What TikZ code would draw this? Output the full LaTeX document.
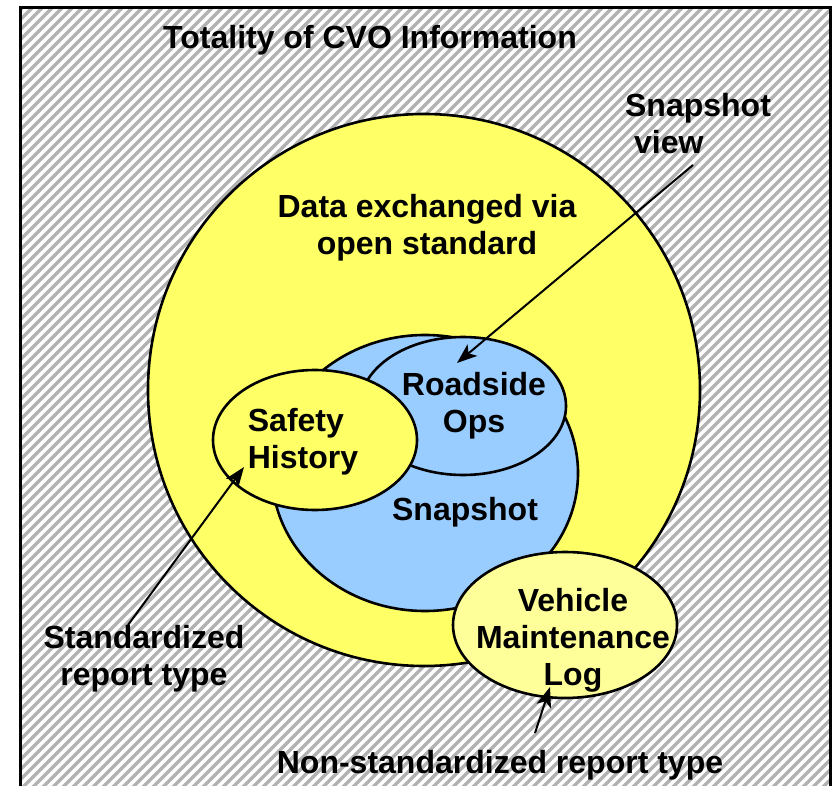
\documentclass[tikz,border=0pt]{standalone}
\usepackage{fontspec}
\setmainfont{Liberation Sans}
\usetikzlibrary{arrows.meta,shapes.geometric}

\definecolor{cvoyellow}{HTML}{FFFF66}
\definecolor{cvolight}{HTML}{FFFF99}
\definecolor{cvoblue}{HTML}{99CCFF}
\definecolor{hatchgray}{HTML}{B2B2B2}

\begin{document}
\begin{tikzpicture}[x=0.5pt, y=-0.5pt,
  every node/.style={font=\bfseries\fontsize{16}{18.5}\selectfont},
  blob/.style={draw, ellipse, line width=1.3pt, inner sep=0pt},
  txt/.style={align=center, inner sep=0pt},
  pointer/.style={-{Stealth[length=10pt, width=7.5pt, inset=2.5pt]}, line width=1pt}]
  \useasboundingbox (0,0) rectangle (835,786);
  \fill[white] (0,0) rectangle (835,786);

  % hatched field
  \begin{scope}
    \clip (20,8) rectangle (830,800);
    \foreach \k in {-800,-790,...,840}
      \draw[hatchgray, line width=1.7pt] (\k,800) -- ++(800,-800);
  \end{scope}
  \draw[line width=1.5pt] (20,800) -- (20,8) -- (830,8) -- (830,800);
  \node[txt] (title) at (370,40) {Totality of CVO Information};

  % sets
  \node[blob, fill=cvoyellow, minimum width=276pt, minimum height=276pt] (cvo) at (424,390) {};
  \node[blob, fill=cvoblue, minimum width=153pt, minimum height=138pt] (snap) at (425,473) {};
  \node[blob, fill=cvoblue, minimum width=103pt, minimum height=69pt] (roadside) at (463,406) {};
  \node[blob, fill=cvoyellow, minimum width=102pt, minimum height=70pt] (safety) at (315,440) {};
  \node[blob, fill=cvolight, minimum width=112pt, minimum height=73pt] (vehicle) at (565,625) {};

  \node[txt] (opentxt) at (427,228) {Data exchanged via\\open standard};
  \node[txt] (roadtxt) at (474,406) {Roadside\\Ops};
  \node[txt, align=left] (safetytxt) at (303,442) {Safety\\History};
  \node[txt] (snaptxt) at (465,512) {Snapshot};
  \node[txt] (vehtxt) at (573,640) {Vehicle\\Maintenance\\Log};

  % labels
  \node[txt, align=left] (viewlbl) at (698,124) {Snapshot\\\hspace{4.5pt}view};
  \node[txt] (stdlbl) at (144,659) {Standardized\\report type};
  \node[txt] (nonstdlbl) at (500,765) {Non-standardized report type};

  \coordinate (viewtail) at (693,165);
  \coordinate (viewtip) at (457,363);
  \coordinate (stdtail) at (128,625);
  \coordinate (stdtip) at (244,467);
  \coordinate (nonstdtail) at (535,733);
  \coordinate (nonstdtip) at (550,687);
  \draw[pointer] (viewtail) -- (viewtip);
  \draw[pointer] (stdtail) -- (stdtip);
  \draw[pointer] (nonstdtail) -- (nonstdtip);
\end{tikzpicture}
\end{document}
